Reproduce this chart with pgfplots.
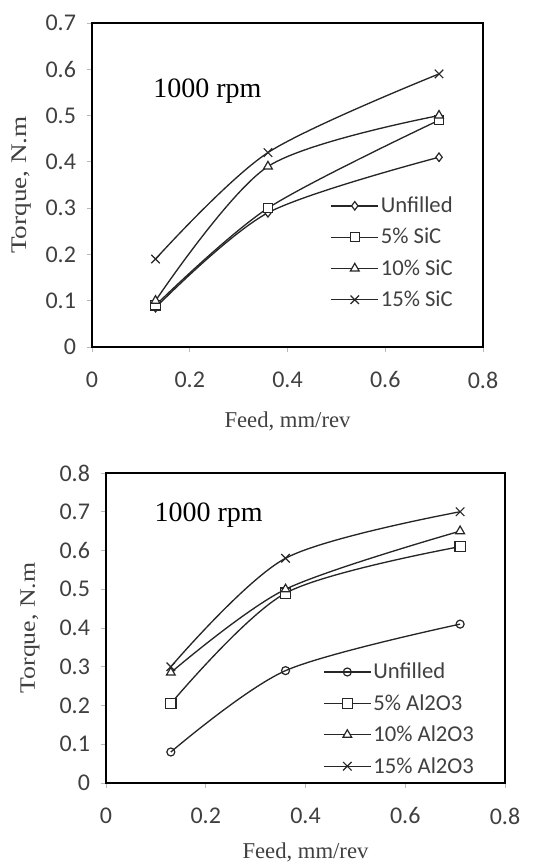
\documentclass[border=0pt]{standalone}
\usepackage{fontspec}
\setmainfont{Liberation Serif}
\newfontfamily\carlito{Carlito}
\usepackage{pgfplots}
\pgfplotsset{compat=1.18}
\definecolor{tickgray}{HTML}{404040}
\pgfplotsset{
  torque/.style={
    scale only axis,
    xmin=0, xmax=0.8,
    xtick={0,0.2,0.4,0.6,0.8},
    ymin=0,
    axis line style={black, line width=1.6pt},
    tick pos=left,
    tick align=outside,
    major tick length=4pt,
    tick style={gray!55, line width=0.6pt},
    /pgf/number format/assume math mode=true,
    /pgf/number format/fixed,
    /pgf/number format/precision=1,
    ticklabel style={font=\carlito\fontsize{18}{21}\selectfont, text=tickgray},
    xticklabel shift=11pt,
    yticklabel style={xshift=-4.5pt},
    xlabel style={font=\fontsize{17}{20}\selectfont, text=tickgray},
    mark options={fill=white, solid, line width=0.9pt},
    legend cell align=left,
    legend image code/.code={\draw[mark repeat=2, mark phase=2] plot coordinates {(0pt,0pt) (17.5pt,0pt) (35pt,0pt)};},
    legend style={draw=none, fill=none, inner sep=0pt, row sep=7.25pt,
      font=\carlito\fontsize{17}{20}\selectfont, text=tickgray,
      nodes={inner sep=1.5pt}},
  },
  ser/.style={black!85, line width=1pt, smooth, tension=0.5},
}
\begin{document}
\begin{tikzpicture}
\useasboundingbox (0pt,0pt) rectangle (410.25pt,649.5pt);
% Top chart: SiC
\begin{axis}[torque,
  at={(69pt,389.25pt)}, anchor=south west,
  width=293.25pt, height=243pt,
  ymax=0.7, ytick={0,0.1,0.2,0.3,0.4,0.5,0.6,0.7},
  xlabel={Feed, mm/rev},
  ylabel={Torque, N.m},
  xlabel style={at={(rel axis cs:0.5,0)}, anchor=center, yshift=-56pt},
  ylabel style={at={(rel axis cs:0,0.5)}, anchor=center, yshift=52.5pt,
    font=\fontsize{20.4}{24}\selectfont, text=tickgray, yscale=0.82},
  legend style={at={(rel axis cs:0.61,0.47)}, anchor=north west},
]
\addplot[ser, mark=diamond*, mark size=3.2pt] coordinates {(0.13,0.085) (0.36,0.29) (0.71,0.41)};
\addlegendentry{Unfilled}
\addplot[ser, mark=square*, mark size=3.5pt] coordinates {(0.13,0.09) (0.36,0.30) (0.71,0.49)};
\addlegendentry{5\% SiC}
\addplot[ser, mark=triangle*, mark size=3.8pt] coordinates {(0.13,0.10) (0.36,0.39) (0.71,0.50)};
\addlegendentry{10\% SiC}
\addplot[ser, mark=x, mark size=4.5pt] coordinates {(0.13,0.19) (0.36,0.42) (0.71,0.59)};
\addlegendentry{15\% SiC}
\node[anchor=west, font=\fontsize{21}{24}\selectfont] at (rel axis cs:0.145,0.79) {1000 rpm};
\end{axis}
% Bottom chart: Al2O3
\begin{axis}[torque,
  at={(79.5pt,62.25pt)}, anchor=south west,
  width=299.25pt, height=232.5pt,
  ymax=0.8, ytick={0,0.1,0.2,0.3,0.4,0.5,0.6,0.7,0.8},
  xlabel={Feed, mm/rev},
  ylabel={Torque, N.m},
  xlabel style={at={(rel axis cs:0.5,0)}, anchor=center, yshift=-52pt},
  ylabel style={at={(rel axis cs:0,0.5)}, anchor=center, yshift=57pt,
    font=\fontsize{19.4}{23}\selectfont, text=tickgray, yscale=0.85},
  legend style={at={(rel axis cs:0.544,0.394)}, anchor=north west},
]
\addplot[ser, mark=o, mark size=3pt] coordinates {(0.13,0.08) (0.36,0.29) (0.71,0.41)};
\addlegendentry{Unfilled}
\addplot[ser, mark=square*, mark size=3.8pt] coordinates {(0.13,0.205) (0.36,0.49) (0.71,0.61)};
\addlegendentry{5\% Al2O3}
\addplot[ser, mark=triangle*, mark size=3.8pt] coordinates {(0.13,0.285) (0.36,0.50) (0.71,0.65)};
\addlegendentry{10\% Al2O3}
\addplot[ser, mark=x, mark size=4.5pt] coordinates {(0.13,0.30) (0.36,0.58) (0.71,0.70)};
\addlegendentry{15\% Al2O3}
\node[anchor=west, font=\fontsize{21}{24}\selectfont] at (rel axis cs:0.11,0.865) {1000 rpm};
\end{axis}
\end{tikzpicture}
\end{document}
